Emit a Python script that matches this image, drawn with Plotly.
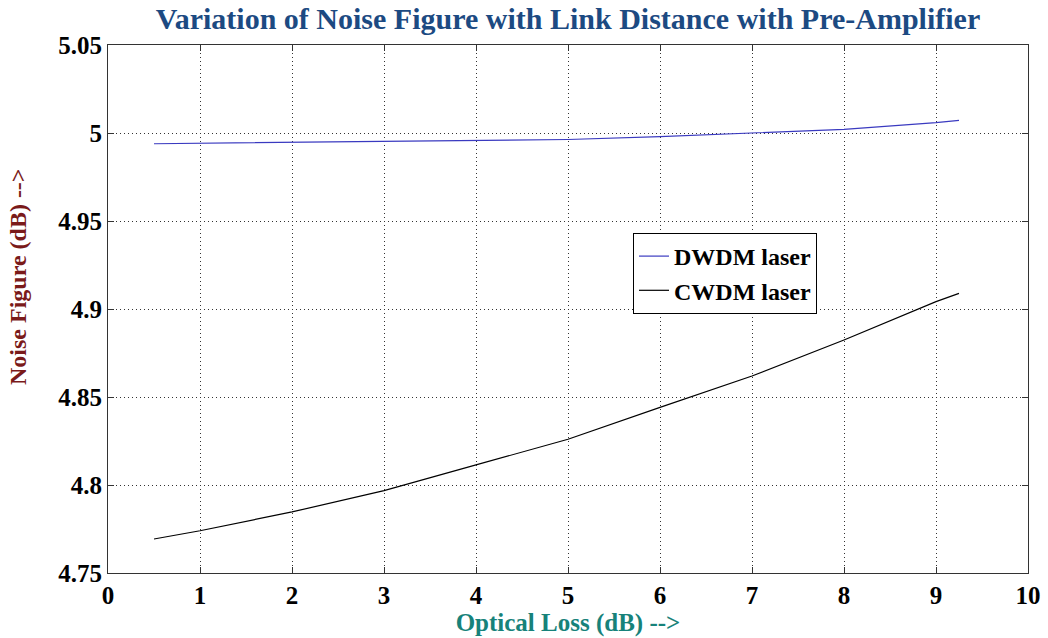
import plotly.graph_objects as go

# Data
loss_db = [0.5, 1, 2, 3, 4, 5, 6, 7, 8, 9, 9.25]
nf_dwdm = [4.9939, 4.9942, 4.9947, 4.9951, 4.9956, 4.9963, 4.9979, 4.9998, 5.0021, 5.0059, 5.0072]
nf_cwdm = [4.7693, 4.7740, 4.7847, 4.7968, 4.8114, 4.8260, 4.8441, 4.8619, 4.8824, 4.9042, 4.9089]

x_ticks = [0, 1, 2, 3, 4, 5, 6, 7, 8, 9, 10]
x_ticktext = ["0", "1", "2", "3", "4", "5", "6", "7", "8", "9", "10"]
y_ticks = [4.75, 4.8, 4.85, 4.9, 4.95, 5.0, 5.05]
y_ticktext = ["4.75", "4.8", "4.85", "4.9", "4.95", "5", "5.05"]

FONT = "Liberation Serif"

fig = go.Figure()
fig.add_trace(go.Scatter(x=loss_db, y=nf_dwdm, mode="lines", name="<b>DWDM laser</b>",
                         line=dict(color="#3a3ac0", width=1.2)))
fig.add_trace(go.Scatter(x=loss_db, y=nf_cwdm, mode="lines", name="<b>CWDM laser</b>",
                         line=dict(color="#000000", width=1.2)))

axis_common = dict(
    showline=True, linecolor="#333333", linewidth=1.2, mirror="ticks",
    ticks="inside", ticklen=6, tickcolor="#333333",
    showgrid=True, gridcolor="#333333", gridwidth=1, griddash="1px,3px",
    zeroline=False, automargin=False,
    tickfont=dict(family=FONT, size=25, color="#000000", weight="bold"),
)

fig.update_layout(
    width=1048, height=638,
    margin=dict(l=108, r=20, t=45, b=65),
    paper_bgcolor="white", plot_bgcolor="white",
    title=dict(text="<b>Variation of Noise Figure with Link Distance with Pre-Amplifier</b>",
               x=(108 + 1028) / 2 / 1048, xanchor="center", y=1 - 18 / 638, yanchor="middle",
               font=dict(family=FONT, size=30, color="#1c4a82")),
    xaxis=dict(range=[0, 10], tickvals=x_ticks, ticktext=x_ticktext,
               title=dict(text="<b>Optical Loss (dB) --></b>", standoff=4,
                          font=dict(family=FONT, size=25, color="#17827a")),
               **axis_common),
    yaxis=dict(range=[4.75, 5.05], tickvals=y_ticks, ticktext=y_ticktext,
               **axis_common),
    legend=dict(x=(633 - 108) / 920, y=(573 - 233) / 528, xanchor="left", yanchor="top",
                bgcolor="white", bordercolor="#000000", borderwidth=1,
                font=dict(family=FONT, size=24, color="#000000")),
    showlegend=True,
    annotations=[dict(text="<b>Noise Figure (dB) --></b>", textangle=-90,
                      xref="paper", yref="paper", x=(18 - 108) / 920, y=(573 - 277) / 528,
                      xanchor="center", yanchor="middle", showarrow=False,
                      font=dict(family=FONT, size=24, color="#7a1a1a"))],
)

fig.write_html("out.html")
